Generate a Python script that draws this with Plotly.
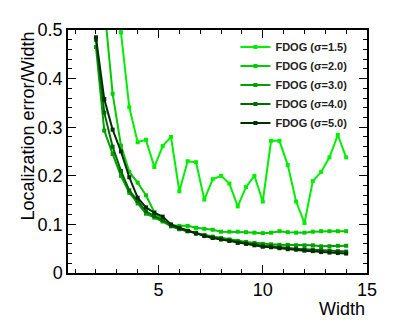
import plotly.graph_objects as go

# x positions (width), step 0.4 from 2.0 to 14.0
width = [2.0, 2.4, 2.8, 3.2, 3.6, 4.0, 4.4, 4.8, 5.2, 5.6, 6.0, 6.4, 6.8, 7.2, 7.6,
         8.0, 8.4, 8.8, 9.2, 9.6, 10.0, 10.4, 10.8, 11.2, 11.6, 12.0, 12.4, 12.8,
         13.2, 13.6, 14.0]

err_s15 = [1.20, 0.90, 0.66, 0.495, 0.341, 0.269, 0.274, 0.218, 0.261, 0.280, 0.168,
           0.230, 0.228, 0.151, 0.193, 0.200, 0.184, 0.137, 0.177, 0.200, 0.147,
           0.272, 0.272, 0.222, 0.147, 0.103, 0.189, 0.208, 0.238, 0.284, 0.238]
err_s20 = [0.75, 0.55, 0.369, 0.262, 0.208, 0.186, 0.160, 0.125, 0.108, 0.098, 0.097,
           0.097, 0.093, 0.091, 0.089, 0.085, 0.085, 0.085, 0.084, 0.083, 0.082,
           0.083, 0.086, 0.084, 0.083, 0.083, 0.085, 0.086, 0.086, 0.086, 0.086]
err_s30 = [0.465, 0.293, 0.245, 0.200, 0.165, 0.143, 0.122, 0.114, 0.106, 0.096, 0.090,
           0.086, 0.083, 0.078, 0.075, 0.072, 0.069, 0.066, 0.064, 0.062, 0.060,
           0.059, 0.058, 0.058, 0.057, 0.057, 0.057, 0.055, 0.055, 0.056, 0.056]
err_s40 = [0.480, 0.330, 0.260, 0.210, 0.170, 0.148, 0.127, 0.117, 0.109, 0.097, 0.091,
           0.086, 0.082, 0.077, 0.073, 0.070, 0.067, 0.063, 0.061, 0.059, 0.056,
           0.055, 0.053, 0.052, 0.050, 0.049, 0.048, 0.047, 0.046, 0.045, 0.044]
err_s50 = [0.485, 0.358, 0.295, 0.250, 0.197, 0.155, 0.135, 0.124, 0.116, 0.100, 0.093,
           0.087, 0.081, 0.076, 0.072, 0.069, 0.066, 0.062, 0.060, 0.057, 0.054,
           0.053, 0.051, 0.049, 0.048, 0.046, 0.045, 0.043, 0.042, 0.041, 0.040]

names = ["FDOG (σ=1.5)", "FDOG (σ=2.0)", "FDOG (σ=3.0)", "FDOG (σ=4.0)", "FDOG (σ=5.0)"]
series = [err_s15, err_s20, err_s30, err_s40, err_s50]
colors = ["#00ee00", "#00cc00", "#00a000", "#006a00", "#002e00"]

_FONT = "Liberation Sans, Arial, Helvetica, sans-serif"

fig = go.Figure()
for name, ys, col in zip(names, series, colors):
    fig.add_trace(go.Scatter(
        x=width, y=ys, name=name, mode="lines+markers",
        line=dict(color=col, width=2),
        marker=dict(color=col, size=4, symbol="square"),
        cliponaxis=True,
    ))

axis_common = dict(
    showline=True, linecolor="black", linewidth=1.5, mirror="allticks",
    ticks="inside", ticklen=8, tickwidth=1, tickcolor="black",
    showgrid=False, zeroline=False,
    tickfont=dict(family=_FONT, size=18, color="black"),
)

# the page body adds an 8px offset, margins below account for it
fig.update_layout(
    width=399, height=332,
    paper_bgcolor="white", plot_bgcolor="white",
    margin=dict(l=60, r=40, t=18, b=67),
    font=dict(family=_FONT, color="black"),
    xaxis=dict(range=[0.66, 15], tickvals=[5, 10, 15],
               minor=dict(ticks="inside", ticklen=4, dtick=1, tick0=0, tickcolor="black"),
               **axis_common),
    yaxis=dict(range=[0, 0.5], tickvals=[0, 0.1, 0.2, 0.3, 0.4, 0.5],
               ticktext=["0", "0.1", "0.2", "0.3", "0.4", "0.5"],
               minor=dict(ticks="inside", ticklen=4, dtick=0.02, tick0=0, tickcolor="black"),
               **axis_common),
    legend=dict(x=0.56, y=0.99, xanchor="left", yanchor="top",
                bgcolor="rgba(0,0,0,0)", tracegroupgap=0, itemwidth=30,
                font=dict(family=_FONT, size=11, color="#222222", weight="bold")),
    showlegend=True,
)

fig.add_annotation(text="Localization error/Width", textangle=-90,
                   xref="paper", yref="paper", x=-0.137, y=1.0,
                   xanchor="center", yanchor="top", showarrow=False,
                   font=dict(family=_FONT, size=18, color="black"))
fig.add_annotation(text="Width", xref="paper", yref="paper", x=1.0, y=-0.148,
                   xanchor="right", yanchor="middle", showarrow=False,
                   font=dict(family=_FONT, size=18, color="black"))

fig.write_html("out.html")
